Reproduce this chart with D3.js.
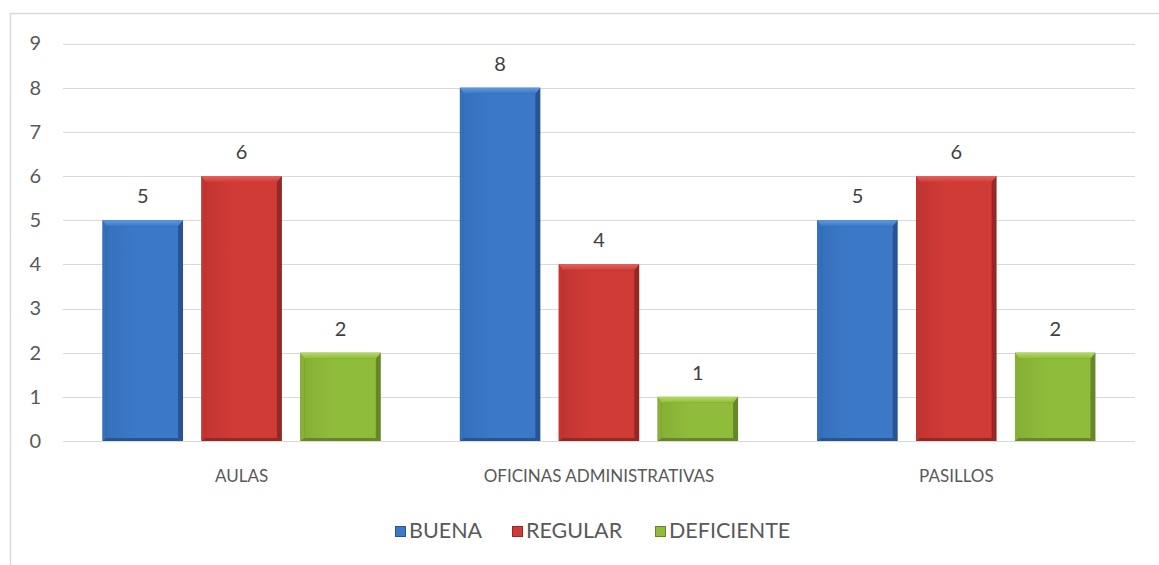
<!DOCTYPE html>
<html><head><meta charset="utf-8">
<script src="https://cdn.jsdelivr.net/npm/d3@7"></script>
<style>body{margin:0;background:#fff;}svg{display:block;font-family:Lato,"Open Sans","Liberation Sans",sans-serif;}</style>
</head><body>
<script>
const categories = ["AULAS", "OFICINAS ADMINISTRATIVAS", "PASILLOS"];
const seriesNames = ["BUENA", "REGULAR", "DEFICIENTE"];
const buena = [5, 8, 5];
const regular = [6, 4, 6];
const deficiente = [2, 1, 2];
const yTicks = [0,1,2,3,4,5,6,7,8,9];

(function(){
const W = 1159, H = 565;
const FONT = "Lato,'Open Sans',sans-serif";
const svg = d3.select("body").append("svg").attr("width", W).attr("height", H);
// [edge dark, body, top bevel light, left bevel]
const colors = {
  BUENA: ["#2a5391", "#3b79c8", "#5f9ae0", "#3570bb"],
  REGULAR: ["#952825", "#d13b36", "#e4635d", "#c23531"],
  DEFICIENTE: ["#66862a", "#90bc3b", "#b4da62", "#86b036"]
};
const defs = svg.append("defs");
seriesNames.forEach(s => {
  const c = colors[s];
  const g = defs.append("linearGradient").attr("id", "h" + s).attr("x1", 0).attr("x2", 1).attr("y1", 0).attr("y2", 0);
  [[0, c[3]], [0.4, c[1]], [1, c[1]]].forEach(([o, col]) => g.append("stop").attr("offset", o).attr("stop-color", col));
  const t = defs.append("linearGradient").attr("id", "t" + s).attr("x1", 0).attr("x2", 0).attr("y1", 0).attr("y2", 1);
  [[0, c[2]], [1, c[1]]].forEach(([o, col]) => t.append("stop").attr("offset", o).attr("stop-color", col));
});

// chart border
svg.append("path").attr("d", `M10.5,${H} V13.5 H${W}`).attr("fill", "none").attr("stroke", "#d9d9d9").attr("stroke-width", 1.5);

const pLeft = 63, pRight = 1135, pTop = 43.5, pBottom = 441;
const x = d3.scaleBand().domain(categories).range([pLeft, pRight]).paddingInner(0).paddingOuter(0);
const x1 = d3.scaleBand().domain(seriesNames).range([0, x.bandwidth()]).paddingInner(0.186).paddingOuter(0.4);
const y = d3.scaleLinear().domain([0, 9]).range([pBottom, pTop]);

// gridlines
svg.append("g").selectAll("line").data(yTicks).join("line")
  .attr("x1", pLeft).attr("x2", pRight)
  .attr("y1", d => Math.round(y(d)) + 0.5).attr("y2", d => Math.round(y(d)) + 0.5)
  .attr("stroke", "#d9d9d9").attr("stroke-width", 1);

// y labels
const yAxis = d3.axisLeft(y).tickValues(yTicks).tickSize(0).tickPadding(0);
const ya = svg.append("g").attr("transform", `translate(41,0)`).call(yAxis);
ya.select(".domain").remove();
ya.selectAll("text").attr("font-size", 20).attr("fill", "#595959").attr("font-family", FONT);

const data = categories.map((c, i) => ({cat: c, vals: [
  {s: "BUENA", v: buena[i]}, {s: "REGULAR", v: regular[i]}, {s: "DEFICIENTE", v: deficiente[i]}]}));

const groups = svg.append("g").selectAll("g").data(data).join("g")
  .attr("transform", d => `translate(${x(d.cat)},0)`);
const bars = groups.selectAll("g").data(d => d.vals).join("g");
const bt = 6, bl = 4, br = 5, bb = 3; // bevel sizes
bars.append("rect")
  .attr("x", d => x1(d.s)).attr("width", x1.bandwidth())
  .attr("y", d => y(d.v)).attr("height", d => y(0) - y(d.v))
  .attr("fill", d => colors[d.s][0]);
// left bevel
bars.append("path").attr("d", d => {
  const x0 = x1(d.s), y0 = y(d.v), yb = y(0);
  return `M${x0},${y0} L${x0 + bl},${y0 + bt} L${x0 + bl},${yb - bb} L${x0},${yb} Z`;
}).attr("fill", d => colors[d.s][3]);
// body
bars.append("rect")
  .attr("x", d => x1(d.s) + bl).attr("width", x1.bandwidth() - bl - br)
  .attr("y", d => y(d.v) + bt).attr("height", d => Math.max(0, y(0) - y(d.v) - bt - bb))
  .attr("fill", d => `url(#h${d.s})`);
// top bevel
bars.append("path").attr("d", d => {
  const x0 = x1(d.s), w = x1.bandwidth(), y0 = y(d.v);
  return `M${x0},${y0} L${x0 + w},${y0} L${x0 + w - br},${y0 + bt} L${x0 + bl},${y0 + bt} Z`;
}).attr("fill", d => `url(#t${d.s})`);
bars.append("text")
  .attr("x", d => x1(d.s) + x1.bandwidth() / 2)
  .attr("y", d => y(d.v) - 17)
  .attr("text-anchor", "middle").attr("font-size", 20).attr("fill", "#404040")
  .attr("font-family", FONT)
  .text(d => d.v);

// x labels
const xAxis = d3.axisBottom(x).tickSize(0).tickPadding(0);
const xa = svg.append("g").attr("transform", `translate(0,${pBottom})`).call(xAxis);
xa.select(".domain").remove();
xa.selectAll("text").attr("dy", null).attr("y", 41).attr("font-size", 17).attr("fill", "#595959").attr("font-family", FONT);

// legend
const legX = [395, 512, 655];
const leg = svg.append("g").selectAll("g").data(seriesNames).join("g")
  .attr("transform", (d, i) => `translate(${legX[i]},526)`);
leg.append("rect").attr("x", 0.5).attr("y", 0.5).attr("width", 10).attr("height", 10)
  .attr("fill", d => colors[d][1]).attr("stroke", d => colors[d][0]);
leg.append("text").attr("x", 14).attr("y", 12).attr("font-size", 21.5).attr("fill", "#595959").attr("font-family", FONT).text(d => d);
})();
</script>
</body></html>
